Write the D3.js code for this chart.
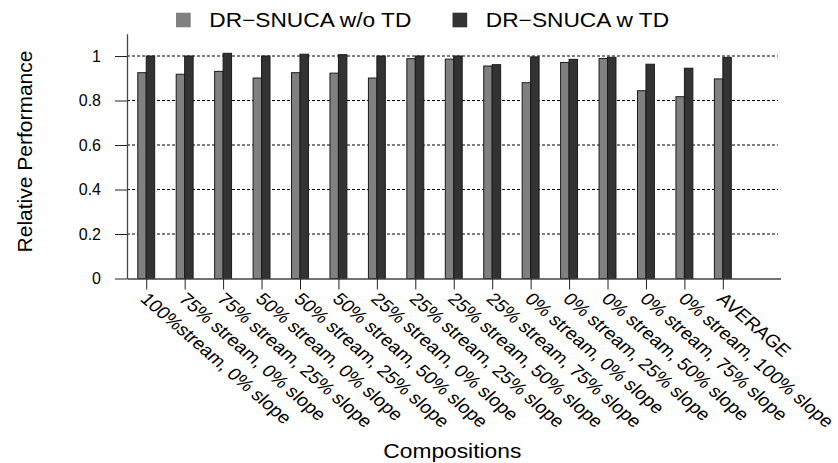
<!DOCTYPE html>
<html>
<head>
<meta charset="utf-8">
<script src="https://cdn.jsdelivr.net/npm/d3@7"></script>
<style>
  body { margin: 0; background: #fff; }
  text { font-family: "Liberation Sans", Arial, Helvetica, sans-serif; fill: #000; }
</style>
</head>
<body>
<div id="chart"></div>
<script>
const compositions = [
    "100%stream, 0% slope",
    "75% stream, 0% slope",
    "75% stream, 25% slope",
    "50% stream, 0% slope",
    "50% stream, 25% slope",
    "50% stream, 50% slope",
    "25% stream, 0% slope",
    "25% stream, 25% slope",
    "25% stream, 50% slope",
    "25% stream, 75% slope",
    "0% stream, 0% slope",
    "0% stream, 25% slope",
    "0% stream, 50% slope",
    "0% stream, 75% slope",
    "0% stream, 100% slope",
    "AVERAGE"
];
const withoutTD = [0.925, 0.918, 0.931, 0.901, 0.925, 0.923, 0.901, 0.988, 0.986, 0.955, 0.880, 0.971, 0.989, 0.844, 0.817, 0.897];
const withTD = [1.000, 1.000, 1.012, 1.000, 1.008, 1.006, 1.000, 1.000, 1.000, 0.961, 0.996, 0.985, 0.994, 0.963, 0.945, 0.994];
const yTicks = [0, 0.2, 0.4, 0.6, 0.8, 1];
const seriesNames = ["DR\u2212SNUCA w/o TD", "DR\u2212SNUCA w TD"];
const seriesColors = ["#808080", "#333333"];

const W = 838, H = 463;
const plot = { left: 127, right: 780.5, top: 33.75, bottom: 278.5 };

const svg = d3.select("#chart")
    .append("svg")
    .attr("width", W)
    .attr("height", H);

const x = d3.scaleLinear()
    .domain([-0.5, compositions.length + 0.5])
    .range([plot.left, plot.right]);

const y = d3.scaleLinear()
    .domain([0, 1.1])
    .range([plot.bottom, plot.top]);

const barW = 0.22;

// dotted grid
svg.append("g")
    .selectAll("line")
    .data(yTicks.filter(d => d > 0))
    .enter()
    .append("line")
    .attr("x1", plot.left)
    .attr("x2", 778)
    .attr("y1", d => y(d))
    .attr("y2", d => y(d))
    .attr("stroke", "#000")
    .attr("stroke-width", 1)
    .attr("stroke-dasharray", "3,2");

// bars, one group per series
const series = [withoutTD, withTD];
series.forEach((vals, s) => {
    svg.append("g")
        .selectAll("rect")
        .data(vals)
        .enter()
        .append("rect")
        .attr("x", (d, i) => x(i + (s - 1) * barW))
        .attr("width", x(barW) - x(0))
        .attr("y", d => y(d))
        .attr("height", d => y(0) - y(d))
        .attr("fill", seriesColors[s])
        .attr("stroke", "#1a1a1a")
        .attr("stroke-width", 1);
});

// axes
const yAxis = svg.append("g")
    .attr("transform", `translate(${plot.left},0)`)
    .call(d3.axisLeft(y).tickValues(yTicks).tickSize(12).tickPadding(14).tickSizeOuter(0).tickFormat(d3.format("")));
yAxis.selectAll("text").style("font-size", "16px").attr("fill", "#000");

svg.append("g")
    .attr("transform", `translate(0,${plot.bottom})`)
    .call(d3.axisBottom(x).tickValues(d3.range(compositions.length)).tickSize(11).tickSizeOuter(0).tickFormat(""));

svg.selectAll(".domain").attr("stroke", "#444").attr("stroke-width", 1.3);
svg.selectAll(".tick line").attr("stroke", "#222");

// slanted category labels (picture is a bit wider than tall, hence the x stretch)
svg.append("g")
    .selectAll("text")
    .data(compositions)
    .enter()
    .append("text")
    .attr("transform", (d, i) => `translate(${x(i) - 7},300) scale(1.155,1) rotate(45)`)
    .attr("text-anchor", "start")
    .style("font-size", "17.2px")
    .text(d => d);

// axis titles
svg.append("text")
    .attr("transform", "translate(32,151.5) rotate(-90)")
    .attr("text-anchor", "middle")
    .style("font-size", "21px")
    .text("Relative Performance");

svg.append("text")
    .attr("x", 383.3)
    .attr("y", 458.3)
    .attr("textLength", 138)
    .attr("lengthAdjust", "spacingAndGlyphs")
    .style("font-size", "21px")
    .text("Compositions");

// legend
const legendX = [176, 452.5];
const legendLen = [202, 183.3];
seriesNames.forEach((name, s) => {
    svg.append("rect")
        .attr("x", legendX[s])
        .attr("y", 12.7)
        .attr("width", 14.7)
        .attr("height", 14.6)
        .attr("fill", seriesColors[s]);
    svg.append("text")
        .attr("x", legendX[s] + 33.3)
        .attr("y", 27.3)
        .attr("textLength", legendLen[s])
        .attr("lengthAdjust", "spacingAndGlyphs")
        .style("font-size", "20px")
        .text(name);
});
</script>
</body>
</html>
